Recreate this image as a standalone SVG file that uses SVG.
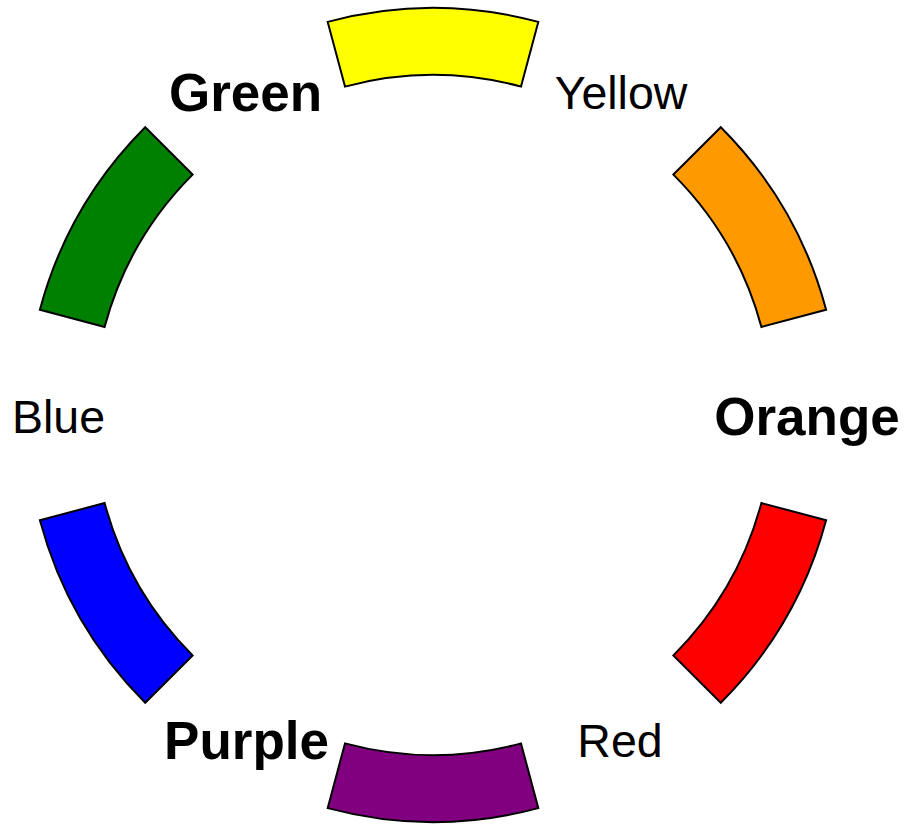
<svg xmlns="http://www.w3.org/2000/svg" width="908" height="825" viewBox="0 0 908 825">
<style>
.seg{stroke:#000;stroke-width:2;stroke-linejoin:miter}
.lbl{font-family:"Liberation Sans",Arial,sans-serif;font-size:46.5px;fill:#000;text-anchor:middle}
.bold{font-weight:bold;font-size:53px}
</style>
<rect width="908" height="825" fill="#fff"/>
<g id="yellow"><path class="seg" fill="#ffff00" d="M327.7,21.9 A407,407 0 0 1 538.3,21.9 L521,86.6 A340,340 0 0 0 345,86.6 Z"/><text class="lbl" x="621" y="109">Yellow</text></g>
<g id="orange"><path class="seg" fill="#ff9900" d="M720.8,127.2 A407,407 0 0 1 826.1,309.7 L761.4,327 A340,340 0 0 0 673.4,174.6 Z"/><text class="lbl bold" x="807" y="434.5">Orange</text></g>
<g id="red"><path class="seg" fill="#ff0000" d="M826.1,520.3 A407,407 0 0 1 720.8,702.8 L673.4,655.4 A340,340 0 0 0 761.4,503 Z"/><text class="lbl" x="620" y="757">Red</text></g>
<g id="purple"><path class="seg" fill="#800080" d="M538.3,808.1 A407,407 0 0 1 327.7,808.1 L345,743.4 A340,340 0 0 0 521,743.4 Z"/><text class="lbl bold" x="246.5" y="759">Purple</text></g>
<g id="blue"><path class="seg" fill="#0000ff" d="M145.2,702.8 A407,407 0 0 1 39.9,520.3 L104.6,503 A340,340 0 0 0 192.6,655.4 Z"/><text class="lbl" x="58.5" y="432.5">Blue</text></g>
<g id="green"><path class="seg" fill="#008000" d="M39.9,309.7 A407,407 0 0 1 145.2,127.2 L192.6,174.6 A340,340 0 0 0 104.6,327 Z"/><text class="lbl bold" x="245.5" y="111">Green</text></g>
<g id="connectors"></g>
</svg>
